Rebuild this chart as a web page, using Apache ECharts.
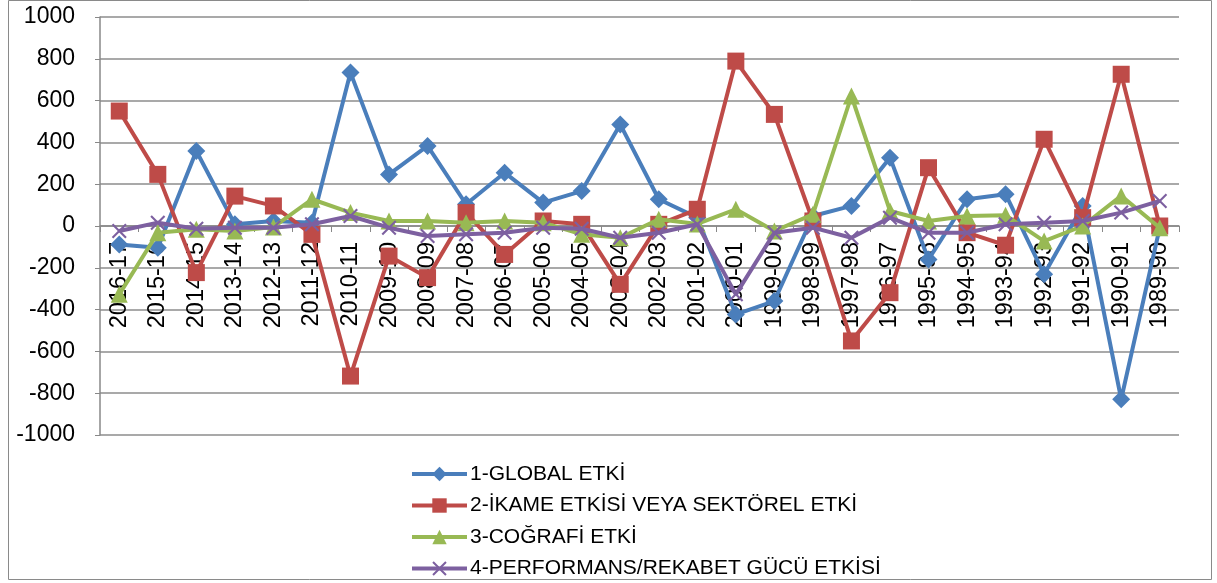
<!DOCTYPE html>
<html>
<head>
<meta charset="utf-8">
<script src="https://cdn.jsdelivr.net/npm/echarts@6/dist/echarts.min.js"></script>
<style>
html,body{margin:0;padding:0;background:#fff;}
#c{width:1217px;height:583px;}
</style>
</head>
<body>
<div id="c"></div>
<script>
const categories = ['2016-17','2015-16','2014-15','2013-14','2012-13','2011-12','2010-11','2009-10','2008-09','2007-08','2006-07','2005-06','2004-05','2003-04','2002-03','2001-02','2000-01','1999-00','1998-99','1997-98','1996-97','1995-96','1994-95','1993-94','1992-93','1991-92','1990-91','1989-90'];
const seriesNames = ['1-GLOBAL ETKİ','2-İKAME ETKİSİ VEYA SEKTÖREL ETKİ','3-COĞRAFİ ETKİ','4-PERFORMANS/REKABET GÜCÜ ETKİSİ'];
const globalEtki = [-88,-104,359,8,24,16,734,247,383,104,255,112,167,486,128,40,-423,-359,48,96,327,-160,128,152,-231,96,-829,-8];
const ikameEtki = [550,247,-223,143,96,-40,-718,-144,-247,64,-136,24,8,-279,8,80,789,534,24,-550,-319,279,-32,-92,415,40,726,0];
const cografiEtki = [-327,-32,-16,-24,-5,128,64,24,24,16,24,16,-40,-56,32,10,80,-24,56,622,72,24,48,51,-72,0,144,-8];
const performansEtki = [-24,16,-13,-8,-8,8,48,-8,-48,-40,-32,-8,-13,-56,-32,8,-327,-32,-8,-56,40,-32,-32,8,16,24,64,120];
const yTicks = {min:-1000, max:1000, interval:200};

const colors = ['#4A7EBB','#BE4B48','#98B954','#7D60A0'];
const FONT = '"Liberation Sans", Arial, sans-serif';
const crossPath = 'path://M1,0 L5,4 L9,0 L10,1 L6,5 L10,9 L9,10 L5,6 L1,10 L0,9 L4,5 L0,1 Z';

const GRID_TOP = 17, GRID_BOTTOM = 148, H = 583;
const plotH = H - GRID_TOP - GRID_BOTTOM;
// zero sits at the middle of the symmetric value range
const zeroOffset = -plotH * (0 - yTicks.min) / (yTicks.max - yTicks.min);

function mk(i, data, symbol, size){
  return {
    name: seriesNames[i], type:'line', data:data,
    symbol:symbol, symbolSize:size, showSymbol:true,
    lineStyle:{color:colors[i], width:4},
    itemStyle:{color:colors[i], borderWidth:0},
    emphasis:{disabled:true}, animation:false, z: 10+i
  };
}

const chart = echarts.init(document.getElementById('c'), null, {renderer:'canvas'});
chart.setOption({
  animation:false,
  backgroundColor:'#fff',
  graphic:[{type:'rect', shape:{x:8.5,y:0.5,width:1203,height:579}, style:{fill:'none', stroke:'#8a8a8a', lineWidth:1}, z:-1}],
  grid:{left:100, right:38, top:GRID_TOP, bottom:GRID_BOTTOM, containLabel:false},
  legend:{
    type:'plain', orient:'vertical', left:405, top:457, height:124, itemWidth:55, itemHeight:18, itemGap:7.5,
    lineStyle:{width:4},
    textStyle:{fontFamily:FONT, fontSize:21, color:'#000', lineHeight:24, padding:[0,0,0,-2]},
    data:seriesNames
  },
  xAxis:{
    type:'category', data:categories, boundaryGap:true, position:'bottom', offset:zeroOffset,
    axisLine:{onZero:false, lineStyle:{color:'#888', width:1.5}},
    axisTick:{show:true, length:6, lineStyle:{color:'#888'}},
    axisLabel:{rotate:90, fontFamily:FONT, fontSize:23.5, color:'#000', margin:16, interval:0},
    splitLine:{show:false}
  },
  yAxis:{
    type:'value', min:yTicks.min, max:yTicks.max, interval:yTicks.interval,
    axisLine:{show:true, lineStyle:{color:'#888', width:1.5}},
    axisTick:{show:true, length:5, lineStyle:{color:'#888'}},
    axisLabel:{fontFamily:FONT, fontSize:23, color:'#000', margin:25, formatter:function(v){return String(v);}},
    splitLine:{show:true, lineStyle:{color:'#8c8c8c', width:1.5}}
  },
  series:[
    mk(0, globalEtki, 'diamond', 18),
    mk(1, ikameEtki, 'rect', 17),
    mk(2, cografiEtki, 'triangle', 17),
    mk(3, performansEtki, crossPath, 15)
  ]
});
</script>
</body>
</html>
